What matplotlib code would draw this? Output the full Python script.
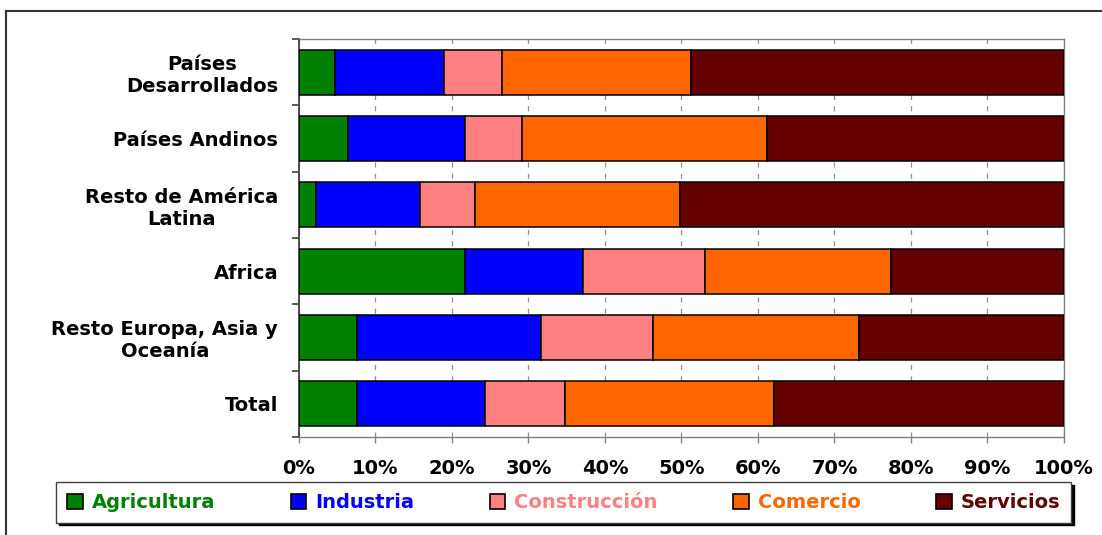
import matplotlib

matplotlib.use("Agg")

import matplotlib.pyplot as plt
import numpy as np
from matplotlib.lines import Line2D

# Regions (top to bottom) and share of each sector, in %
regions = [
    "Países\nDesarrollados",
    "Países Andinos",
    "Resto de América\nLatina",
    "Africa",
    "Resto Europa, Asia y\nOceanía",
    "Total",
]
sectors = ["Agricultura", "Industria", "Construcción", "Comercio", "Servicios"]
agricultura = [4.7, 6.4, 2.2, 21.7, 7.6, 7.6]
industria = [14.2, 15.3, 13.6, 15.4, 24.0, 16.7]
construccion = [7.7, 7.5, 7.2, 16.0, 14.7, 10.5]
comercio = [24.7, 32.0, 26.8, 24.3, 26.9, 27.3]
servicios = [48.7, 38.8, 50.2, 22.6, 26.8, 37.9]
xticks = list(range(0, 101, 10))

colours = ["#008000", "#0000FF", "#FF8080", "#FF6600", "#640000"]

plt.rcParams["font.family"] = ["DejaVu Sans"]
plt.rcParams["font.weight"] = "bold"

fig = plt.figure(figsize=(11.02, 5.35), dpi=100, facecolor="white")
ax = fig.add_axes((0.2713, 0.1832, 0.6942, 0.7439))

series = [agricultura, industria, construccion, comercio, servicios]
y = np.arange(len(regions))
left = np.zeros(len(regions))
for vals, colour, name in zip(series, colours, sectors):
    ax.barh(y, vals, left=left, height=0.68, color=colour, edgecolor="black",
            linewidth=1.1, label=name, zorder=3)
    left += np.array(vals)

ax.set_xlim(0, 100)
ax.set_ylim(len(regions) - 0.5, -0.5)

# x axis
ax.set_xticks(xticks)
ax.set_xticklabels([f"{t}%" for t in xticks], fontsize=14, fontweight="bold")
ax.tick_params(axis="x", direction="out", length=4, width=1, color="#808080", pad=12)
ax.grid(axis="x", color="#909090", linestyle=(0, (4, 5)), linewidth=0.9, zorder=0)

# y axis: labels centred on bars, tick marks between categories
ax.set_yticks(y)
ax.set_yticklabels(regions, fontsize=14, fontweight="bold", multialignment="center")
ax.tick_params(axis="y", which="major", length=0, pad=15)
ax.set_yticks(np.arange(len(regions) + 1) - 0.5, minor=True)
ax.tick_params(axis="y", which="minor", direction="out", length=5, width=1.2, color="#404040")

for side in ["top", "right", "bottom"]:
    ax.spines[side].set_color("#808080")
    ax.spines[side].set_linewidth(1.0)
ax.spines["left"].set_color("#404040")
ax.spines["left"].set_linewidth(1.3)

# legend below the plot
leg = fig.legend(
    loc="center",
    bbox_to_anchor=(0.5115, 0.0607),
    ncol=5,
    frameon=True,
    fancybox=False,
    shadow={"color": "black", "alpha": 1},
    edgecolor="#404040",
    prop={"size": 14, "weight": "bold"},
    labelcolor=colours,
    handlelength=0.8,
    handleheight=0.8,
    handletextpad=0.45,
    columnspacing=3.9,
    borderpad=0.55,
)
leg.get_frame().set_linewidth(1.0)
for h in leg.legend_handles:
    h.set_linewidth(1.2)

# outer frame of the chart area (top and left edges)
fig.add_artist(Line2D([6 / 1102, 6 / 1102], [0, 1 - 11 / 535], transform=fig.transFigure,
                      color="#333333", linewidth=1.5))
fig.add_artist(Line2D([6 / 1102, 1], [1 - 11 / 535, 1 - 11 / 535], transform=fig.transFigure,
                      color="#333333", linewidth=1.5))

fig.savefig("out.png", dpi=100, facecolor="white")
